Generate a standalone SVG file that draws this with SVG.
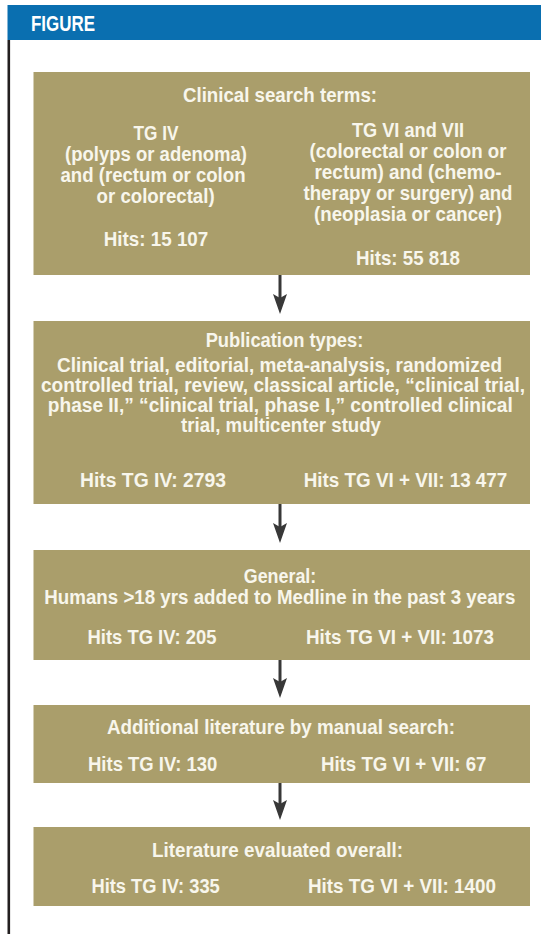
<svg xmlns="http://www.w3.org/2000/svg" width="541" height="934" viewBox="0 0 541 934">
<style>
  .box { fill: #aa9e6b; }
  .t { font-family: "Liberation Sans", Arial, sans-serif; font-weight: bold; font-size: 20px; fill: #f8f6ec; text-anchor: middle; }
  .conn { stroke: #383838; stroke-width: 3; fill: none; }
  .hdr { font-family: "Liberation Sans", Arial, sans-serif; font-weight: bold; font-size: 22px; fill: #ffffff; }
</style>
<defs>
  <marker id="ah" viewBox="0 0 20 14" refX="6" refY="7" markerWidth="20" markerHeight="14" markerUnits="userSpaceOnUse" orient="auto">
    <path d="M0,0 L20,7 L0,14 L4,7 Z" fill="#383838"/>
  </marker>
</defs>
<rect x="0" y="0" width="541" height="934" fill="#ffffff"/>
<g id="header">
  <rect x="7.5" y="5" width="533.5" height="35" fill="#0a6fb0"/>
  <text class="hdr" x="31" y="30.5" textLength="64" lengthAdjust="spacingAndGlyphs">FIGURE</text>
  <rect x="7.5" y="40" width="2.6" height="894" fill="#231f20"/>
</g>
<g id="connectors">
  <line class="conn" x1="280" y1="275" x2="280" y2="300" marker-end="url(#ah)"/>
  <line class="conn" x1="280" y1="504" x2="280" y2="529" marker-end="url(#ah)"/>
  <line class="conn" x1="280" y1="660" x2="280" y2="684" marker-end="url(#ah)"/>
  <line class="conn" x1="280" y1="783" x2="280" y2="806" marker-end="url(#ah)"/>
</g>
<g id="node1">
  <rect class="box" x="33.5" y="72" width="496.5" height="203"/>
  <text class="t" x="280" y="102" textLength="194" lengthAdjust="spacingAndGlyphs">Clinical search terms:</text>
  <text class="t" x="156" y="140" textLength="45" lengthAdjust="spacingAndGlyphs">TG IV</text>
  <text class="t" x="156" y="161" textLength="182" lengthAdjust="spacingAndGlyphs">(polyps or adenoma)</text>
  <text class="t" x="153" y="182" textLength="185" lengthAdjust="spacingAndGlyphs">and (rectum or colon</text>
  <text class="t" x="155.6" y="203" textLength="118" lengthAdjust="spacingAndGlyphs">or colorectal)</text>
  <text class="t" x="156" y="246" textLength="104.5" lengthAdjust="spacingAndGlyphs">Hits: 15 107</text>
  <text class="t" x="408" y="137" textLength="112" lengthAdjust="spacingAndGlyphs">TG VI and VII</text>
  <text class="t" x="408" y="158" textLength="197" lengthAdjust="spacingAndGlyphs">(colorectal or colon or</text>
  <text class="t" x="408" y="179" textLength="187" lengthAdjust="spacingAndGlyphs">rectum) and (chemo-</text>
  <text class="t" x="408" y="200" textLength="209" lengthAdjust="spacingAndGlyphs">therapy or surgery) and</text>
  <text class="t" x="408" y="221" textLength="188" lengthAdjust="spacingAndGlyphs">(neoplasia or cancer)</text>
  <text class="t" x="408" y="265" textLength="104" lengthAdjust="spacingAndGlyphs">Hits: 55 818</text>
</g>
<g id="node2">
  <rect class="box" x="33.5" y="321" width="496.5" height="183"/>
  <text class="t" x="284.5" y="346.7" textLength="157.7" lengthAdjust="spacingAndGlyphs">Publication types:</text>
  <text class="t" x="279.5" y="371.7" textLength="445" lengthAdjust="spacingAndGlyphs">Clinical trial, editorial, meta-analysis, randomized</text>
  <text class="t" x="283" y="391.7" textLength="484" lengthAdjust="spacingAndGlyphs">controlled trial, review, classical article, “clinical trial,</text>
  <text class="t" x="280.3" y="411.7" textLength="465" lengthAdjust="spacingAndGlyphs">phase II,” “clinical trial, phase I,” controlled clinical</text>
  <text class="t" x="281" y="431.7" textLength="200" lengthAdjust="spacingAndGlyphs">trial, multicenter study</text>
  <text class="t" x="153" y="486.7" textLength="146" lengthAdjust="spacingAndGlyphs">Hits TG IV: 2793</text>
  <text class="t" x="405.5" y="486.7" textLength="203.6" lengthAdjust="spacingAndGlyphs">Hits TG VI + VII: 13 477</text>
</g>
<g id="node3">
  <rect class="box" x="33.5" y="550" width="496.5" height="110"/>
  <text class="t" x="280" y="583.3" textLength="72.5" lengthAdjust="spacingAndGlyphs">General:</text>
  <text class="t" x="279.8" y="603.8" textLength="471" lengthAdjust="spacingAndGlyphs">Humans &gt;18 yrs added to Medline in the past 3 years</text>
  <text class="t" x="152" y="644" textLength="129" lengthAdjust="spacingAndGlyphs">Hits TG IV: 205</text>
  <text class="t" x="400" y="644" textLength="188" lengthAdjust="spacingAndGlyphs">Hits TG VI + VII: 1073</text>
</g>
<g id="node4">
  <rect class="box" x="33.5" y="705" width="496.5" height="78"/>
  <text class="t" x="281" y="734" textLength="348" lengthAdjust="spacingAndGlyphs">Additional literature by manual search:</text>
  <text class="t" x="152.7" y="770.7" textLength="129.4" lengthAdjust="spacingAndGlyphs">Hits TG IV: 130</text>
  <text class="t" x="403.7" y="770.7" textLength="165.5" lengthAdjust="spacingAndGlyphs">Hits TG VI + VII: 67</text>
</g>
<g id="node5">
  <rect class="box" x="33.5" y="827" width="496.5" height="79"/>
  <text class="t" x="277.5" y="856.7" textLength="251" lengthAdjust="spacingAndGlyphs">Literature evaluated overall:</text>
  <text class="t" x="155.6" y="893.3" textLength="128.4" lengthAdjust="spacingAndGlyphs">Hits TG IV: 335</text>
  <text class="t" x="402" y="893.3" textLength="188" lengthAdjust="spacingAndGlyphs">Hits TG VI + VII: 1400</text>
</g>
</svg>
